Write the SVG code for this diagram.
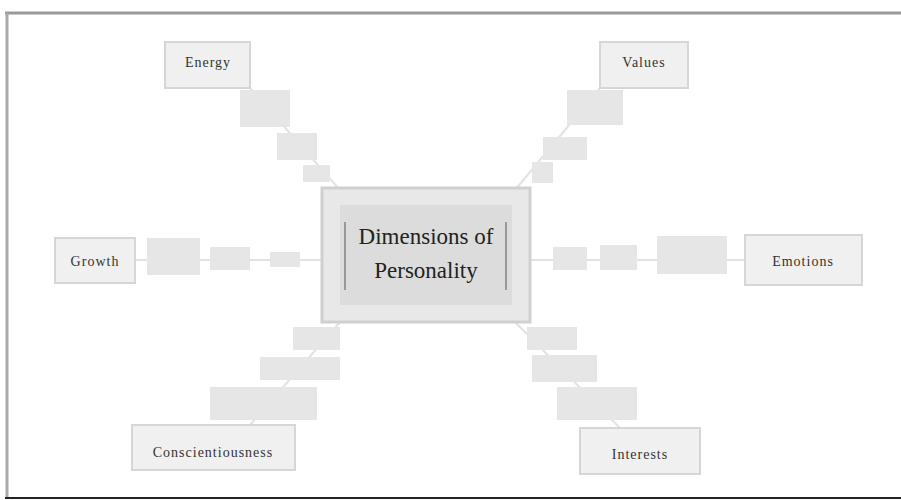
<svg xmlns="http://www.w3.org/2000/svg" width="901" height="500" viewBox="0 0 901 500">
<style>
.node{fill:#f0f0f0;stroke:#d6d6d6;stroke-width:2}
.lab{fill:#e6e6e6;stroke:none}
.conn{stroke:#e2e2e2;stroke-width:2;fill:none}
.nt{font-family:"Liberation Serif",serif;font-size:14px;fill:#333;text-anchor:middle;letter-spacing:1px}
.ct{font-family:"Liberation Serif",serif;font-size:23px;fill:#222;text-anchor:middle}
</style>
<rect width="901" height="500" fill="#ffffff"/>
<line x1="5" y1="13" x2="901" y2="13" stroke="#999" stroke-width="3"/>
<line x1="7" y1="13" x2="7" y2="498" stroke="#aaa" stroke-width="3"/>
<line x1="5" y1="498" x2="901" y2="498" stroke="#222" stroke-width="2"/>
<g id="connectors">
<line class="conn" x1="250" y1="88" x2="340" y2="190"/>
<line class="conn" x1="600" y1="88" x2="515" y2="190"/>
<line class="conn" x1="135" y1="260" x2="322" y2="260"/>
<line class="conn" x1="530" y1="260" x2="745" y2="260"/>
<line class="conn" x1="340" y1="322" x2="250" y2="425"/>
<line class="conn" x1="515" y1="322" x2="620" y2="428"/>
<rect class="lab" x="240" y="90" width="50" height="37"/>
<rect class="lab" x="277" y="133" width="40" height="27"/>
<rect class="lab" x="303" y="165" width="27" height="17"/>
<rect class="lab" x="567" y="90" width="56" height="35"/>
<rect class="lab" x="543" y="137" width="44" height="23"/>
<rect class="lab" x="532" y="162" width="21" height="21"/>
<rect class="lab" x="147" y="238" width="53" height="37"/>
<rect class="lab" x="210" y="247" width="40" height="23"/>
<rect class="lab" x="270" y="252" width="30" height="15"/>
<rect class="lab" x="553" y="247" width="34" height="23"/>
<rect class="lab" x="600" y="245" width="37" height="25"/>
<rect class="lab" x="657" y="236" width="70" height="38"/>
<rect class="lab" x="293" y="327" width="47" height="23"/>
<rect class="lab" x="260" y="357" width="80" height="23"/>
<rect class="lab" x="210" y="387" width="107" height="33"/>
<rect class="lab" x="527" y="327" width="50" height="23"/>
<rect class="lab" x="532" y="355" width="65" height="27"/>
<rect class="lab" x="557" y="387" width="80" height="33"/>
</g>
<g id="center">
<rect x="322" y="188" width="208" height="134" fill="#e8e8e8" stroke="#d0d0d0" stroke-width="3"/>
<rect x="340" y="205" width="172" height="100" fill="#dcdcdc" stroke="none"/>
<line x1="345" y1="222" x2="345" y2="290" stroke="#999" stroke-width="2"/>
<line x1="506" y1="222" x2="506" y2="290" stroke="#999" stroke-width="2"/>
<text class="ct" x="426" y="244">Dimensions of</text>
<text class="ct" x="426" y="278">Personality</text>
</g>
<g id="n-topleft"><rect class="node" x="165" y="42" width="85" height="46"/><text class="nt" x="208" y="67">Energy</text></g>
<g id="n-topright"><rect class="node" x="600" y="42" width="88" height="46"/><text class="nt" x="644" y="67">Values</text></g>
<g id="n-left"><rect class="node" x="55" y="238" width="80" height="45"/><text class="nt" x="95" y="266">Growth</text></g>
<g id="n-right"><rect class="node" x="745" y="235" width="117" height="50"/><text class="nt" x="803" y="266">Emotions</text></g>
<g id="n-bottomleft"><rect class="node" x="132" y="425" width="163" height="45"/><text class="nt" x="213" y="457">Conscientiousness</text></g>
<g id="n-bottomright"><rect class="node" x="580" y="428" width="120" height="46"/><text class="nt" x="640" y="459">Interests</text></g>
</svg>
